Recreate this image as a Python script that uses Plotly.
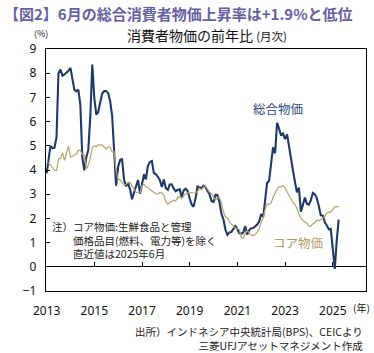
import pandas as pd
import plotly.graph_objects as go

# ---- data (YoY %, monthly, from Jan 2013) ----
headline = [
    3.86, 4.40, 5.00, 4.90, 4.92, 5.35, 8.00, 8.15, 7.90, 7.95, 8.02, 8.10,   # 2013
    8.22, 7.75, 7.32, 7.25, 7.32, 6.70, 4.53, 3.99, 4.53, 4.83, 6.23, 8.36,   # 2014
    6.96, 6.29, 6.38, 6.79, 7.15, 7.26, 7.26, 7.18, 6.83, 6.25, 4.89, 3.35,   # 2015
    4.14, 4.42, 4.45, 3.60, 3.33, 3.45, 3.21, 2.79, 3.07, 3.31, 3.58, 3.02,   # 2016
    3.49, 3.83, 3.61, 4.17, 4.33, 4.37, 3.88, 3.82, 3.72, 3.58, 3.30, 3.61,   # 2017
    3.25, 3.18, 3.40, 3.41, 3.23, 3.12, 3.18, 3.20, 2.88, 3.16, 3.23, 3.13,   # 2018
    2.82, 2.57, 2.48, 2.83, 3.32, 3.28, 3.25, 3.35, 3.29, 3.13, 3.00, 2.72,   # 2019
    2.68, 2.98, 2.96, 2.67, 2.19, 1.96, 1.54, 1.32, 1.42, 1.44, 1.59, 1.68,   # 2020
    1.55, 1.38, 1.37, 1.42, 1.68, 1.33, 1.52, 1.59, 1.60, 1.66, 1.75, 1.87,   # 2021
    2.18, 2.06, 2.64, 3.47, 3.55, 4.35, 4.94, 4.69, 5.95, 5.71, 5.42, 5.51,   # 2022
    5.28, 5.47, 4.97, 4.33, 4.00, 3.52, 3.08, 3.27, 2.28, 2.56, 2.86, 2.61,   # 2023
    2.57, 2.75, 3.05, 3.00, 2.84, 2.51, 2.13, 2.12, 1.84, 1.71, 1.55, 1.57,   # 2024
    0.76, -0.09, 1.03, 1.95,                                                  # 2025
]
core = [
    4.32, 4.29, 4.21, 4.12, 3.99, 3.98, 4.46, 4.48, 4.72, 4.40, 4.76, 4.98,
    4.53, 4.57, 4.61, 4.66, 4.81, 4.81, 4.66, 4.62, 4.04, 4.19, 4.52, 4.93,
    4.99, 4.96, 5.04, 5.04, 5.04, 4.95, 4.86, 4.96, 4.96, 4.74, 4.76, 3.95,
    3.62, 3.59, 3.50, 3.39, 3.41, 3.49, 3.49, 3.32, 3.21, 3.08, 3.07, 3.07,
    3.35, 3.41, 3.30, 3.28, 3.19, 3.13, 3.05, 3.02, 3.00, 3.07, 3.05, 2.95,
    2.69, 2.58, 2.67, 2.69, 2.75, 2.72, 2.87, 2.90, 2.82, 2.94, 3.03, 3.07,
    3.06, 3.06, 3.03, 3.05, 3.12, 3.25, 3.18, 3.30, 3.32, 3.20, 3.08, 3.02,
    2.88, 2.76, 2.87, 2.85, 2.65, 2.26, 2.07, 2.03, 1.86, 1.74, 1.67, 1.60,
    1.56, 1.53, 1.21, 1.18, 1.37, 1.49, 1.40, 1.31, 1.30, 1.33, 1.44, 1.56,
    1.84, 2.03, 2.37, 2.60, 2.58, 2.63, 2.86, 3.04, 3.21, 3.31, 3.30, 3.36,
    3.27, 3.09, 2.94, 2.83, 2.66, 2.58, 2.43, 2.18, 2.00, 1.91, 1.87, 1.80,
    1.68, 1.68, 1.77, 1.82, 1.93, 1.90, 1.95, 2.02, 2.09, 2.21, 2.26, 2.26,
    2.36, 2.48, 2.48, 2.50,
]
months = pd.date_range("2013-01-01", periods=len(headline), freq="MS")
tick_years = ["2013", "2015", "2017", "2019", "2021", "2023", "2025"]
tick_dates = [f"{y}-01-01" for y in tick_years]

NAVY = "#1f3a68"
KHAKI = "#b3a26c"
JP = "Noto Sans CJK JP"
NUM = "Noto Sans, Noto Sans CJK JP"

fig = go.Figure()
fig.add_trace(go.Scatter(x=months, y=core, mode="lines",
                         line=dict(color=KHAKI, width=1.2), xaxis="x2",
                         showlegend=False, hoverinfo="skip"))
fig.add_trace(go.Scatter(x=months, y=headline, mode="lines",
                         line=dict(color=NAVY, width=2.1),
                         showlegend=False, hoverinfo="skip"))

xr = ["2012-12-22", "2026-05-25"]
fig.update_layout(
    width=374, height=353,
    margin=dict(l=46, r=8, t=49, b=62),
    paper_bgcolor="white", plot_bgcolor="white",
    font=dict(family=NUM, size=12, color="#111"),
    xaxis=dict(type="date", range=xr, tickvals=tick_dates, ticktext=tick_years,
               ticks="", showgrid=False, zeroline=False,
               showline=True, linecolor="black", linewidth=1.3, mirror=True,
               tickfont=dict(size=12, color="#111"), ticklabelstandoff=8),
    xaxis2=dict(type="date", range=xr, matches="x", overlaying="x",
                anchor="free", position=0.1, side="bottom",
                tickvals=tick_dates, ticks="inside", ticklen=5,
                tickcolor="black", tickwidth=1, showticklabels=False,
                showline=False, showgrid=False, zeroline=False),
    yaxis=dict(range=[-1, 9], dtick=1, ticks="inside", ticklen=4,
               tickcolor="black", showgrid=False,
               zeroline=True, zerolinecolor="black", zerolinewidth=1.3,
               showline=True, linecolor="black", linewidth=1.3, mirror=True,
               tickfont=dict(size=12, color="#111"), ticklabelstandoff=6),
)

def px(x, y):
    return (x - 46) / 320.0, (291 - y) / 242.0

def note(text, x, y, size, color="#111", xanchor="left", family=JP, bold=False, align="left"):
    ax, ay = px(x, y)
    if bold:
        text = f"<b>{text}</b>"
    fig.add_annotation(text=text, x=ax, y=ay, xref="paper", yref="paper",
                       xanchor=xanchor, yanchor="middle", showarrow=False,
                       align=align,
                       font=dict(family=family, size=size, color=color))

note("【図2】6月の総合消費者物価上昇率は+1.9%と低位", 2, 13, 15, "#6461a3", bold=True)
note('消費者物価の前年比 <span style="font-size:11.5px">(月次)</span>', 207, 35, 14, "#111", xanchor="center")
note("(%)", 41, 33, 9, "#111", xanchor="center")
note("総合物価", 278, 109, 12.5, "#2f4b7c", xanchor="center")
note("コア物価", 298, 242, 12.5, "#b09c66", xanchor="center")
note("注）コア物価:生鮮食品と管理<br>　　価格品目(燃料、電力等)を除く<br>　　直近値は2025年6月",
     50, 240, 10.5, "#222")
note("(年)", 361, 307, 10, "#111", xanchor="center")
note("出所）インドネシア中央統計局(BPS)、CEICより<br>三菱UFJアセットマネジメント作成",
     365, 338, 10.5, "#222", xanchor="right", align="right")

fig.write_html("out.html")
